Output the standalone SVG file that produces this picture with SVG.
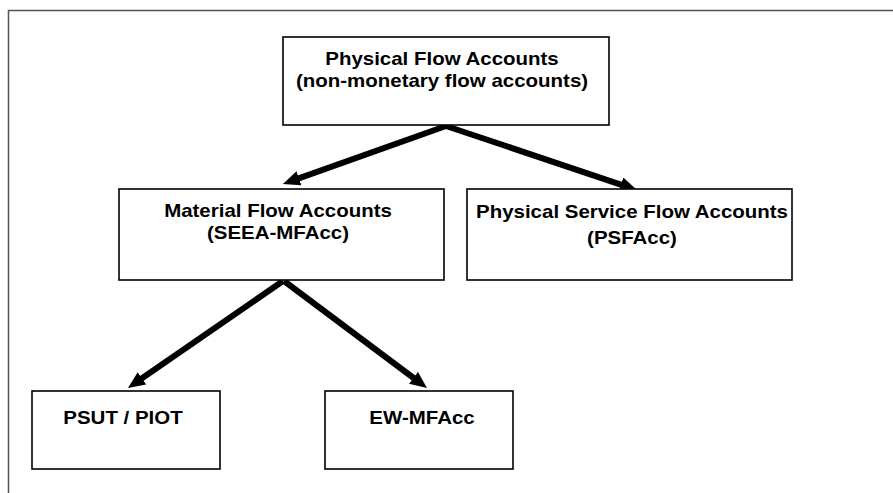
<svg xmlns="http://www.w3.org/2000/svg" width="893" height="493" viewBox="0 0 893 493">
<style>
.box{fill:#fff;stroke:#000;stroke-width:1.6}
.t{font-family:"Liberation Sans",Arial,sans-serif;font-weight:bold;font-size:17.5px;fill:#000;text-anchor:middle}
.c{stroke:#000;stroke-width:6;fill:none;stroke-linecap:butt}
</style>
<defs>
<marker id="ah" markerUnits="userSpaceOnUse" markerWidth="17" markerHeight="15" viewBox="0 0 17 15" refX="7" refY="7.5" orient="auto">
<path d="M0,0 L17,7.5 L0,15 z" fill="#000"/>
</marker>
</defs>
<rect width="893" height="493" fill="#fff"/>
<path d="M8.5,493 V10.5 H893" fill="none" stroke="#555" stroke-width="1.5"/>
<g id="connectors">
<line class="c" x1="446" y1="126" x2="292.4" y2="180.6" marker-end="url(#ah)"/>
<line class="c" x1="446" y1="126" x2="627.5" y2="186.8" marker-end="url(#ah)"/>
<line class="c" x1="283" y1="281" x2="136.2" y2="382.3" marker-end="url(#ah)"/>
<line class="c" x1="284" y1="281" x2="419" y2="382" marker-end="url(#ah)"/>
</g>
<g id="n-pfa">
<rect class="box" x="283" y="37" width="326" height="88"/>
<g transform="translate(442,0) scale(1.17,1)"><text class="t" x="0" y="65">Physical Flow Accounts</text><text class="t" x="0" y="87">(non-monetary flow accounts)</text></g>
</g>
<g id="n-mfa">
<rect class="box" x="119" y="189" width="325" height="91"/>
<g transform="translate(278,0) scale(1.17,1)"><text class="t" x="0" y="217">Material Flow Accounts</text><text class="t" x="0" y="239">(SEEA-MFAcc)</text></g>
</g>
<g id="n-psfa">
<rect class="box" x="467" y="189" width="325" height="91"/>
<g transform="translate(632,0) scale(1.17,1)"><text class="t" x="0" y="218">Physical Service Flow Accounts</text><text class="t" x="0" y="244">(PSFAcc)</text></g>
</g>
<g id="n-psut">
<rect class="box" x="32" y="391" width="188" height="78"/>
<g transform="translate(123,0) scale(1.17,1)"><text class="t" x="0" y="424">PSUT / PIOT</text></g>
</g>
<g id="n-ew">
<rect class="box" x="325" y="391" width="188" height="78"/>
<g transform="translate(422,0) scale(1.17,1)"><text class="t" x="0" y="424">EW-MFAcc</text></g>
</g>
</svg>
